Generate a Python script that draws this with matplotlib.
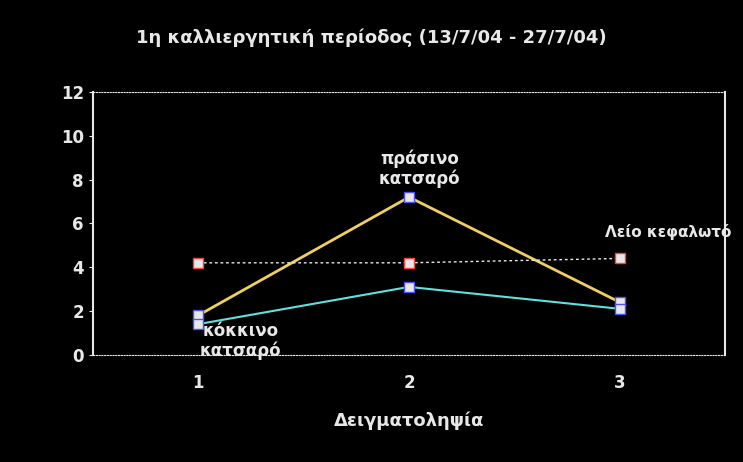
import matplotlib.pyplot as plt

# sampling dates (x) and the three lettuce series
samples = [1, 2, 3]
prasino = [1.8, 7.2, 2.4]      # πράσινο κατσαρό
kokkino = [1.4, 3.1, 2.1]      # κόκκινο κατσαρό
leio = [4.2, 4.2, 4.4]         # λείο κεφαλωτό

title = "1η καλλιεργητική περίοδος (13/7/04 - 27/7/04)"
xlabel = "Δειγματοληψία"

plt.rcParams['font.family'] = ['DejaVu Sans']
fg = '#e8e8e8'

fig = plt.figure(figsize=(7.43, 4.62), dpi=100, facecolor='black')
ax = fig.add_axes([0.125, 0.232, 0.851, 0.569], facecolor='black')

ax.plot(samples, prasino, color='#f0d060', lw=2, marker='s', ms=7,
        mfc=fg, mec='#5050ff', zorder=3)
ax.plot(samples, kokkino, color='#60e0e0', lw=1.5, marker='s', ms=7,
        mfc=fg, mec='#5050ff', zorder=3)
ax.plot(samples, leio, color=fg, lw=1, ls=(0, (2, 2)), marker='s', ms=7,
        mfc=fg, mec='#ff4040', zorder=3)

ax.set_xlim(0.5, 3.5)
ax.set_ylim(0, 12)
ax.set_yticks(range(0, 13, 2))
ax.set_xticks(samples)

for side in ['top', 'bottom']:
    ax.spines[side].set_linestyle((0, (1, 1.5)))
    ax.spines[side].set_color(fg)
ax.spines['left'].set_color(fg)
ax.spines['left'].set_linewidth(1.5)
ax.spines['right'].set_color(fg)
ax.spines['right'].set_linewidth(1.5)

ax.tick_params(colors=fg, labelsize=12, length=3)
ax.tick_params(axis='x', length=0, pad=14)
for lab in ax.get_xticklabels() + ax.get_yticklabels():
    lab.set_fontweight('bold')

ax.set_xlabel(xlabel, color=fg, fontsize=13, fontweight='bold', labelpad=14)
fig.text(0.5, 0.918, title, color=fg, fontsize=13, fontweight='bold',
         ha='center', va='center')

ax.text(2.05, 7.6, "πράσινο\nκατσαρό", color=fg, fontsize=12, fontweight='bold',
        ha='center', va='bottom', linespacing=1.1)
ax.text(1.2, 1.5, "κόκκινο\nκατσαρό", color=fg, fontsize=12, fontweight='bold',
        ha='center', va='top', linespacing=1.1)
ax.text(2.93, 5.6, "Λείο κεφαλωτό", color=fg, fontsize=11, fontweight='bold',
        ha='left', va='center', clip_on=False)

fig.savefig('out.png', dpi=100, facecolor='black')
